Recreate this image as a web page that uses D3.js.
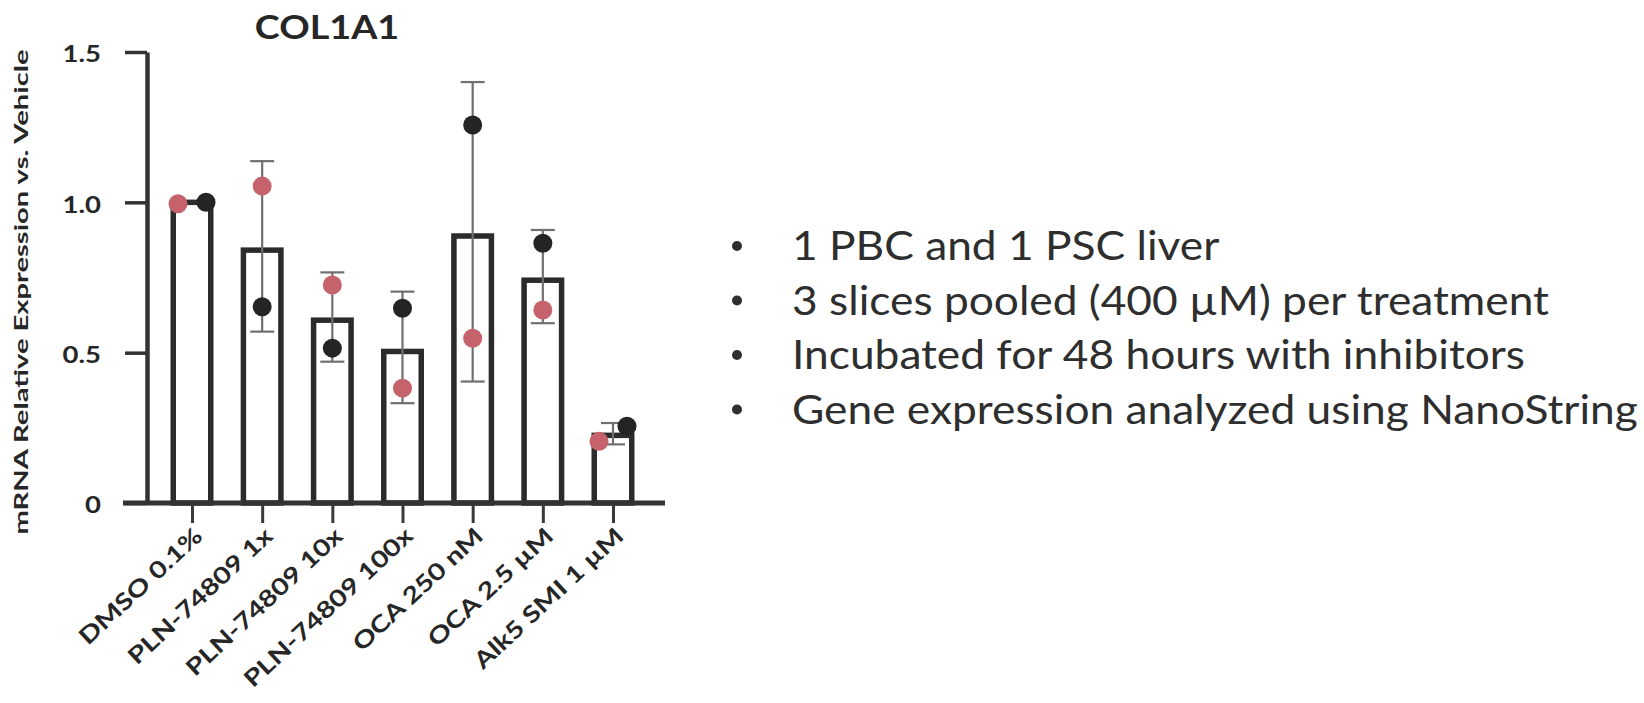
<!DOCTYPE html>
<html><head><meta charset="utf-8">
<script src="https://cdn.jsdelivr.net/npm/d3@7"></script>
<style>html,body{margin:0;padding:0;background:#fff;} svg{display:block;}</style>
</head><body>
<svg id="c" width="1644" height="703"></svg>
<script>
// ---------- data ----------
const title = "COL1A1";
const yTitle = "mRNA Relative Expression vs. Vehicle";
const categories = ["DMSO 0.1%", "PLN-74809 1x", "PLN-74809 10x", "PLN-74809 100x", "OCA 250 nM", "OCA 2.5 µM", "Alk5 SMI 1 µM"];
const barValues = [1.000, 0.841, 0.608, 0.504, 0.888, 0.741, 0.225];
const errLow    = [1.000, 0.570, 0.470, 0.332, 0.404, 0.598, 0.195];
const errHigh   = [1.000, 1.137, 0.767, 0.703, 1.400, 0.908, 0.266];
const liverRed   = [0.995, 1.054, 0.725, 0.382, 0.548, 0.642, 0.205];
const liverBlack = [1.000, 0.653, 0.515, 0.648, 1.257, 0.864, 0.255];
const yTickValues = [0, 0.5, 1.0, 1.5];
const yTickLabels = ["0", "0.5", "1.0", "1.5"];
const bullets = [
  "1 PBC and 1 PSC liver",
  "3 slices pooled (400 µM) per treatment",
  "Incubated for 48 hours with inhibitors",
  "Gene expression analyzed using NanoString"
];

// ---------- layout ----------
const svg = d3.select("#c");
const FONT = "Lato, 'Open Sans', sans-serif";
const ink = "#262626";
const y = d3.scaleLinear().domain([0, 1.5]).range([503, 52]);
const x = d3.scalePoint().domain(categories).range([192, 613]);
const axisX = 147;
const barW = 37.5;
const sx = 1.25; // horizontal text stretch

// title
svg.append("text")
  .attr("transform", `translate(327,39) scale(1.18,1)`)
  .attr("text-anchor", "middle")
  .attr("font-family", FONT).attr("font-weight", 700).attr("font-size", 32)
  .attr("fill", ink).text(title);

// y title
svg.append("text")
  .attr("transform", "translate(22,292) rotate(-90)")
  .attr("text-anchor", "middle").attr("dy", "0.35em")
  .attr("font-family", FONT).attr("font-weight", 700).attr("font-size", 18.5)
  .attr("textLength", 485).attr("lengthAdjust", "spacingAndGlyphs")
  .attr("fill", ink).text(yTitle);

// y axis
const yAxis = d3.axisLeft(y).tickValues(yTickValues).tickSize(22).tickSizeOuter(0)
  .tickFormat((d, i) => yTickLabels[i]);
const gy = svg.append("g").attr("transform", `translate(${axisX},0)`).call(yAxis);
gy.select(".domain").attr("stroke", "#333").attr("stroke-width", 4.5);
gy.selectAll(".tick line").attr("stroke", "#333").attr("stroke-width", 3.5);
gy.selectAll(".tick text")
  .attr("x", null).attr("dy", "0.36em")
  .attr("transform", `translate(-46,2) scale(${sx},1)`)
  .attr("font-family", FONT).attr("font-weight", 700).attr("font-size", 22)
  .attr("fill", ink);

// bars
svg.append("g").selectAll("rect").data(categories).join("rect")
  .attr("x", d => x(d) - barW / 2)
  .attr("y", (d, i) => y(barValues[i]))
  .attr("width", barW)
  .attr("height", (d, i) => y(0) - y(barValues[i]))
  .attr("fill", "#fff").attr("stroke", "#2b2b2b").attr("stroke-width", 5.5);

// x baseline
svg.append("line").attr("x1", 123).attr("x2", 665).attr("y1", y(0)).attr("y2", y(0))
  .attr("stroke", "#333").attr("stroke-width", 5);

// x axis ticks + labels
const xAxis = d3.axisBottom(x).tickSize(18).tickSizeOuter(0);
const gx = svg.append("g").attr("transform", `translate(0,${y(0) + 2})`).call(xAxis);
gx.select(".domain").remove();
gx.selectAll(".tick line").attr("stroke", "#3a3a3a").attr("stroke-width", 3);
gx.selectAll(".tick text")
  .attr("y", null).attr("dy", "0.35em")
  .attr("text-anchor", "end")
  .attr("transform", `translate(6,27) rotate(-43) scale(${sx},1)`)
  .attr("font-family", FONT).attr("font-weight", 700).attr("font-size", 23)
  .attr("fill", ink);

// error bars
const eg = svg.append("g").attr("stroke", "#707070").attr("stroke-width", 2.2);
categories.forEach((c, i) => {
  if (errHigh[i] - errLow[i] < 0.02) return;
  const cx = x(c);
  eg.append("line").attr("x1", cx).attr("x2", cx).attr("y1", y(errLow[i])).attr("y2", y(errHigh[i]));
  eg.append("line").attr("x1", cx - 12).attr("x2", cx + 12).attr("y1", y(errHigh[i])).attr("y2", y(errHigh[i]));
  eg.append("line").attr("x1", cx - 12).attr("x2", cx + 12).attr("y1", y(errLow[i])).attr("y2", y(errLow[i]));
});

// points (spread sideways when they would overlap)
const r = 9.5;
const pts = [];
categories.forEach((c, i) => {
  const a = y(liverRed[i]), b = y(liverBlack[i]);
  const off = Math.abs(a - b) < 2 * r ? 14 : 0;
  pts.push({ cx: x(c) - off, cy: a, col: "#c6626c" });
  pts.push({ cx: x(c) + off, cy: b, col: "#242424" });
});
svg.append("g").selectAll("circle").data(pts).join("circle")
  .attr("cx", d => d.cx).attr("cy", d => d.cy).attr("r", r).attr("fill", d => d.col);

// bullet text
const tg = svg.append("g");
const baseY = 260, lineH = 54.5;
const texts = tg.selectAll("text").data(bullets).join("text")
  .attr("font-family", FONT).attr("font-size", 40).attr("fill", "#2e2e2e")
  .text(d => d);
let maxW = 0;
texts.each(function () { maxW = Math.max(maxW, this.getComputedTextLength()); });
const bsx = 846 / maxW;
texts.attr("transform", (d, i) => `translate(792,${baseY + i * lineH}) scale(${bsx},1)`);
tg.selectAll("circle").data(bullets).join("circle")
  .attr("cx", 737).attr("cy", (d, i) => baseY + i * lineH - 14).attr("r", 5).attr("fill", "#2e2e2e");
</script>
</body></html>
